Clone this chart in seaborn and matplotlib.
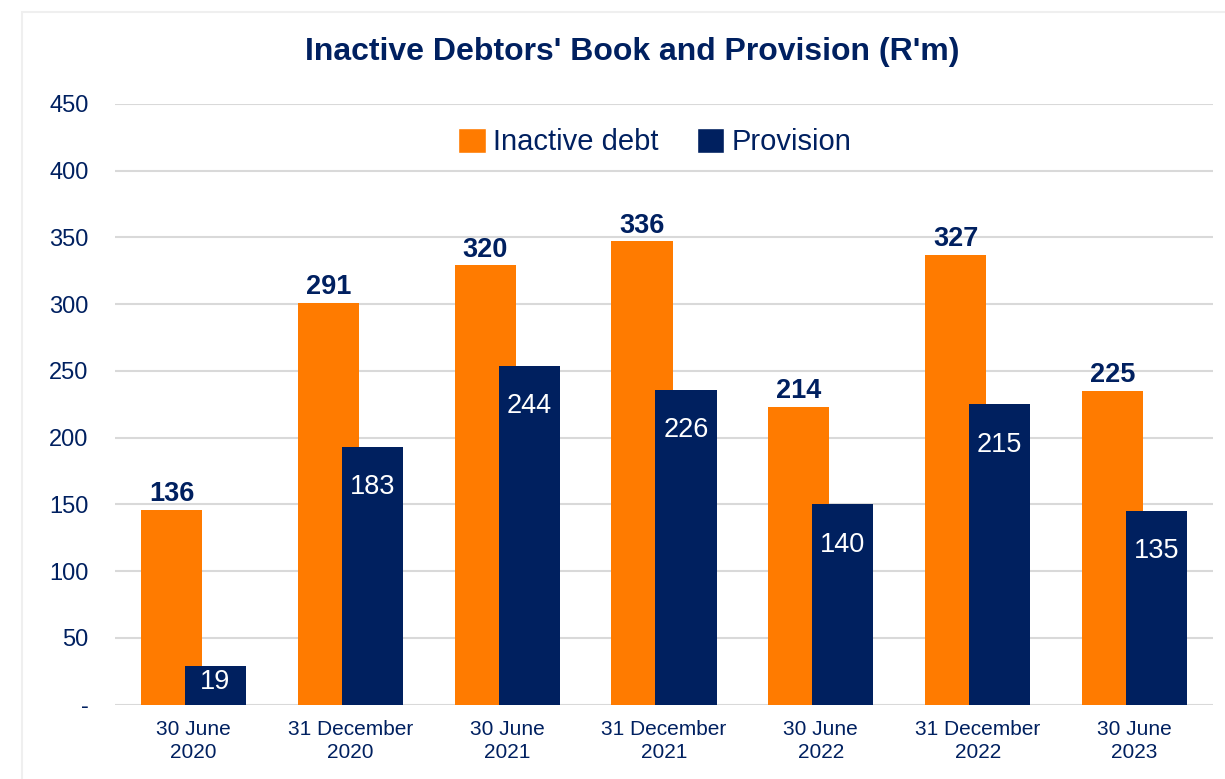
import matplotlib
matplotlib.use('Agg')
import matplotlib.pyplot as plt
import seaborn as sns
import pandas as pd
from matplotlib.patches import Rectangle

# data
periods = ['30 June\n2020', '31 December\n2020', '30 June\n2021', '31 December\n2021',
           '30 June\n2022', '31 December\n2022', '30 June\n2023']
series = ['Inactive debt', 'Provision']
# bar heights as drawn on the axis
inactive_bar = [146, 301, 329, 347, 223, 337, 235]
provision_bar = [29, 193, 254, 236, 150, 225, 145]
# values printed on the bars
inactive_labels = [136, 291, 320, 336, 214, 327, 225]
provision_labels = [19, 183, 244, 226, 140, 215, 135]
y_ticks = [0, 50, 100, 150, 200, 250, 300, 350, 400, 450]
y_tick_labels = ['-', '50', '100', '150', '200', '250', '300', '350', '400', '450']

ORANGE = '#FF7B00'
NAVY = '#00205F'
TEXT = '#002060'

df = pd.DataFrame({
    'period': periods * 2,
    'series': [series[0]] * len(periods) + [series[1]] * len(periods),
    'value': inactive_bar + provision_bar,
})

sns.set_theme(style='white')
plt.rcParams['font.family'] = ['Liberation Sans', 'DejaVu Sans']

fig = plt.figure(figsize=(12.25, 7.79), dpi=100)
ax = fig.add_axes([115 / 1225, 1 - 704.5 / 779, 1098 / 1225, 600.5 / 779])

sns.barplot(data=df, x='period', y='value', hue='series', order=periods,
            hue_order=series, palette=[ORANGE, NAVY], width=0.56, gap=0,
            ax=ax, saturation=1, legend=True)

# widen bars so they overlap like the original
bar_w = 0.39
for cont in ax.containers:
    for p in cont:
        c = p.get_x() + p.get_width() / 2
        p.set_width(bar_w)
        p.set_x(c - bar_w / 2)
        p.set_edgecolor('none')
for p in ax.containers[1]:
    p.set_zorder(3)
for p in ax.containers[0]:
    p.set_zorder(2)

ax.set_xlim(-0.5, 6.5)
ax.set_ylim(0, 450)
ax.set_yticks(y_ticks)
ax.set_yticklabels(y_tick_labels)
ax.grid(axis='y', color='#D9D9D9', linewidth=1.5, zorder=0)
ax.set_axisbelow(True)
for s in ax.spines.values():
    s.set_visible(False)
ax.tick_params(axis='y', length=0, pad=19, labelsize=17, labelcolor=TEXT)
ax.tick_params(axis='x', length=0, pad=11, labelsize=15, labelcolor=TEXT)
for t in ax.get_xticklabels():
    t.set_linespacing(1.3)
ax.set_xlabel('')
ax.set_ylabel('')

# labels
ax.bar_label(ax.containers[0], labels=[str(v) for v in inactive_labels], padding=2,
             fontsize=19.5, fontweight='bold', color=TEXT)
for p, lab in zip(ax.containers[1], provision_labels):
    cx = p.get_x() + p.get_width() / 2
    top = p.get_height()
    if top < 60:
        ax.text(cx, top / 2 + 2, str(lab), ha='center', va='center',
                fontsize=19.5, color='white', zorder=5)
    else:
        ax.annotate(str(lab), (cx, top), xytext=(0, -29), textcoords='offset points',
                    ha='center', va='center', fontsize=19.5, color='white', zorder=5)

ax.legend(loc='center', bbox_to_anchor=(655 / 1225, 1 - 142 / 779),
          bbox_transform=fig.transFigure, ncol=2, frameon=False, fontsize=21,
          handlelength=0.95, handleheight=0.95, handletextpad=0.25,
          columnspacing=1.3, labelcolor=TEXT)

fig.text(632 / 1225, 1 - 52 / 779, "Inactive Debtors' Book and Provision (R'm)",
         ha='center', va='center', fontsize=23, fontweight='bold', color=TEXT)

# faint chart border
fig.patches.append(Rectangle((22 / 1225, -0.05), 1.1, 1 - 12 / 779 + 0.05,
                             transform=fig.transFigure, fill=False,
                             edgecolor='#EFEFEF', linewidth=1.5))

fig.savefig('out.png', dpi=100)
